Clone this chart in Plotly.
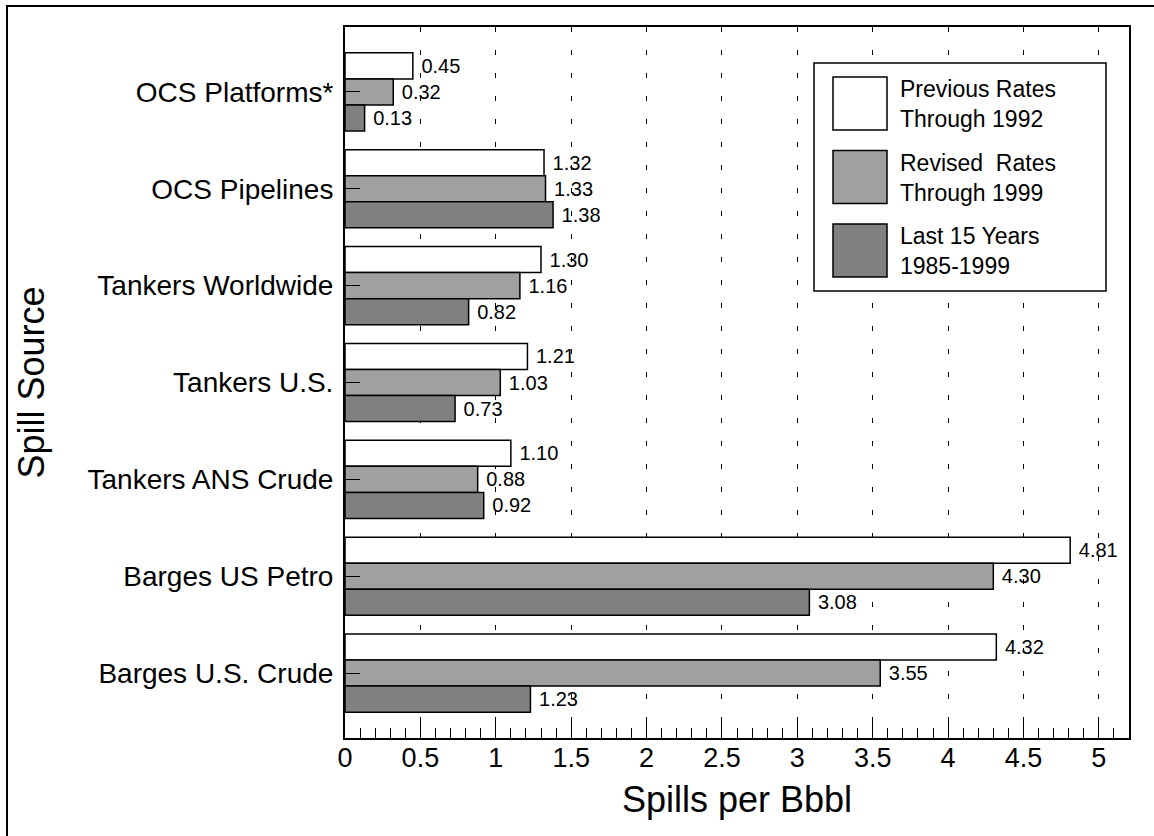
import plotly.graph_objects as go

sources = ["OCS Platforms*", "OCS Pipelines", "Tankers Worldwide", "Tankers U.S.",
           "Tankers ANS Crude", "Barges US Petro", "Barges U.S. Crude"]
previous_rates = [0.45, 1.32, 1.30, 1.21, 1.10, 4.81, 4.32]
revised_rates  = [0.32, 1.33, 1.16, 1.03, 0.88, 4.30, 3.55]
last_15_years  = [0.13, 1.38, 0.82, 0.73, 0.92, 3.08, 1.23]

series_names = ["Previous Rates<br>Through 1992", "Revised  Rates<br>Through 1999",
                "Last 15 Years<br>1985-1999"]
series_colors = ["#FFFFFF", "#A0A0A0", "#808080"]

FONT = "Arial, Liberation Sans, sans-serif"
W, H = 1154, 836
L, R, T, B = 345, 25, 27, 98
PW, PH = W - L - R, H - T - B


def px_x(px):
    return (px - L) / PW


def px_y(py):
    return (H - B - py) / PH


fig = go.Figure()
for vals, name, color in zip([previous_rates, revised_rates, last_15_years],
                             series_names, series_colors):
    fig.add_trace(go.Bar(
        y=sources, x=vals, orientation="h", name=name,
        marker=dict(color=color, line=dict(color="black", width=1.5)),
        text=[f" {v:.2f}" for v in vals], textposition="outside",
        textfont=dict(family=FONT, size=20, color="black"),
        constraintext="none", cliponaxis=False, showlegend=False,
    ))

# custom legend with big swatches
shapes = [dict(type="rect", xref="paper", yref="paper",
               x0=px_x(814), x1=px_x(1106), y0=px_y(291), y1=px_y(63),
               line=dict(color="black", width=1.5), fillcolor="white", layer="above")]
annotations = []
for i, (name, color) in enumerate(zip(series_names, series_colors)):
    top = 77 + i * 73.5
    shapes.append(dict(type="rect", xref="paper", yref="paper",
                       x0=px_x(833), x1=px_x(887), y0=px_y(top + 53), y1=px_y(top),
                       line=dict(color="black", width=1.5), fillcolor=color, layer="above"))
    annotations.append(dict(xref="paper", yref="paper", x=px_x(898), y=px_y(top + 27),
                            text=name, showarrow=False, xanchor="left", yanchor="middle",
                            align="left", font=dict(family=FONT, size=23, color="black")))

# outer frame of the picture
shapes.append(dict(type="rect", xref="paper", yref="paper",
                   x0=px_x(7), x1=px_x(1170), y0=px_y(850), y1=px_y(6),
                   line=dict(color="black", width=2), layer="above"))

fig.update_layout(
    width=W, height=H, barmode="group", bargap=0.194, bargroupgap=0,
    paper_bgcolor="white", plot_bgcolor="white",
    margin=dict(l=L, r=R, t=T, b=B, autoexpand=False),
    font=dict(family=FONT, color="black"),
    shapes=shapes, annotations=annotations, showlegend=False,
)
fig.update_xaxes(
    range=[0, 5.2], tickmode="array", tickvals=[i * 0.5 for i in range(11)],
    ticktext=["0", "0.5", "1", "1.5", "2", "2.5", "3", "3.5", "4", "4.5", "5"],
    ticks="inside", ticklen=16, tickcolor="black", tickwidth=1.2,
    minor=dict(dtick=0.1, ticks="inside", ticklen=10, tickcolor="black", tickwidth=1.2,
               showgrid=False),
    showgrid=True, gridcolor="black", gridwidth=1.2, griddash="5px,18px",
    showline=True, linecolor="black", linewidth=2, mirror=True, zeroline=False,
    tickfont=dict(family=FONT, size=27, color="black"), ticklabelstandoff=-5,
    title=dict(text="Spills per Bbbl", font=dict(family=FONT, size=36, color="black"),
               standoff=14),
    automargin=False,
)
fig.update_yaxes(
    range=[6.67, -0.67], ticks="inside", ticklen=15, tickcolor="black", tickwidth=1.2,
    showline=True, linecolor="black", linewidth=2, mirror=True, showgrid=False,
    tickfont=dict(family=FONT, size=28, color="black"), ticklabelstandoff=4,
    title=dict(text="Spill Source", font=dict(family=FONT, size=36, color="black"),
               standoff=32),
    automargin=False,
)

fig.write_html("out.html", config={"displayModeBar": False},
               post_script="document.body.style.margin='0px';")
